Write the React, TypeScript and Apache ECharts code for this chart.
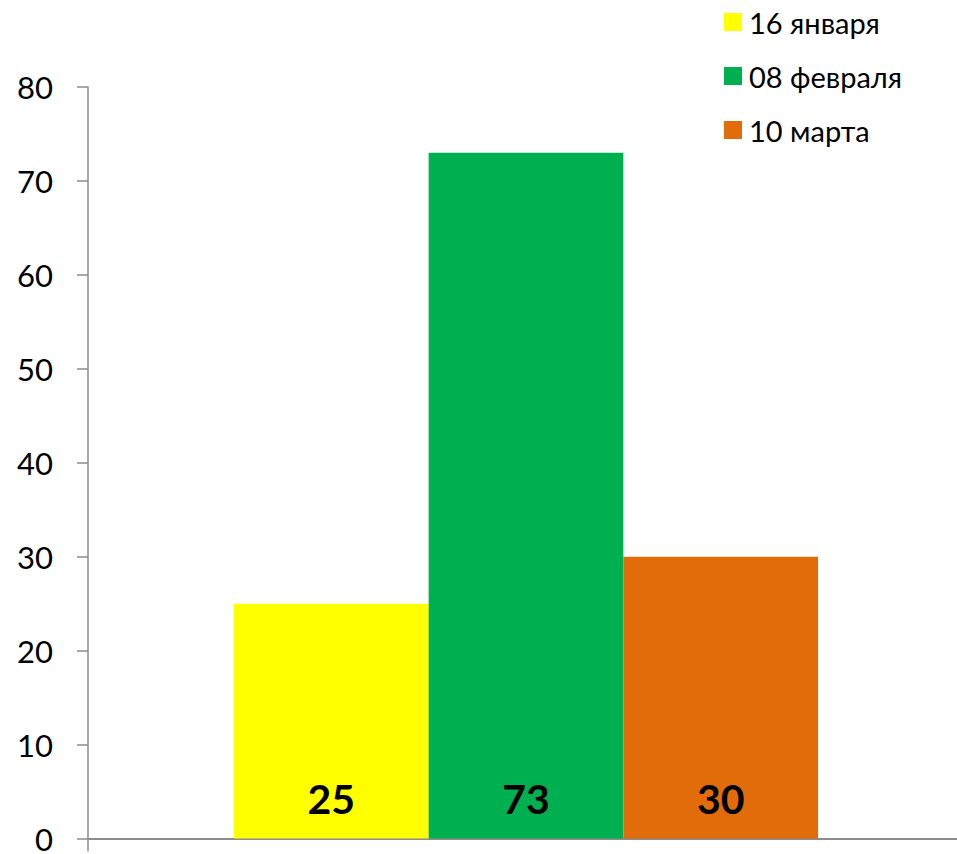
import React, { useEffect, useRef } from "react";
import * as echarts from "echarts";

const categories = [""];
const seriesNames = ["16 января", "08 февраля", "10 марта"];
const seriesValues = [[25], [73], [30]];
const seriesColors = ["#FFFF00", "#00B050", "#E36C0A"];
const yTicks = { min: 0, max: 80, interval: 10 };

export default function App() {
  const ref = useRef<HTMLDivElement>(null);
  useEffect(() => {
    if (!ref.current) return;
    const chart = echarts.init(ref.current, null, { renderer: "svg" });
    chart.setOption({
      animation: false,
      backgroundColor: "#ffffff",
      textStyle: { fontFamily: "Lato" },
      grid: { left: 88, right: 16, top: 87, bottom: 14.3, containLabel: false },
      legend: {
        orient: "vertical",
        left: 724,
        top: 7.5,
        padding: 0,
        itemWidth: 18,
        itemHeight: 18,
        itemGap: 25,
        icon: "rect",
        data: seriesNames,
        textStyle: { fontSize: 29, color: "#000", padding: [0, 0, 0, 2], fontFamily: "Lato" },
      },
      xAxis: {
        type: "category",
        data: categories,
        axisLine: { lineStyle: { color: "#8c8c8c", width: 2 } },
        axisTick: { show: true, length: 13, lineStyle: { color: "#8c8c8c", width: 1.5 } },
        axisLabel: { show: false },
        splitLine: { show: false },
      },
      yAxis: {
        type: "value",
        min: yTicks.min,
        max: yTicks.max,
        interval: yTicks.interval,
        axisLine: { show: true, lineStyle: { color: "#8c8c8c", width: 1.5 } },
        axisTick: { show: true, length: 11, lineStyle: { color: "#8c8c8c", width: 1.5 } },
        axisLabel: { fontSize: 31, lineHeight: 22, color: "#000", margin: 35, fontFamily: "Lato" },
        splitLine: { show: false },
      },
      series: seriesNames.map((name, i) => ({
        name,
        type: "bar",
        data: seriesValues[i],
        barWidth: 194.7,
        barGap: "0%",
        itemStyle: { color: seriesColors[i] },
        label: {
          show: true,
          position: "insideBottom",
          distance: 20,
          fontSize: 41,
          fontWeight: "bold",
          color: "#000",
          fontFamily: "Lato",
        },
      })),
    });
    return () => chart.dispose();
  }, []);
  return <div ref={ref} style={{ position: "fixed", left: 0, top: 0, width: 980, height: 854 }} />;
}
